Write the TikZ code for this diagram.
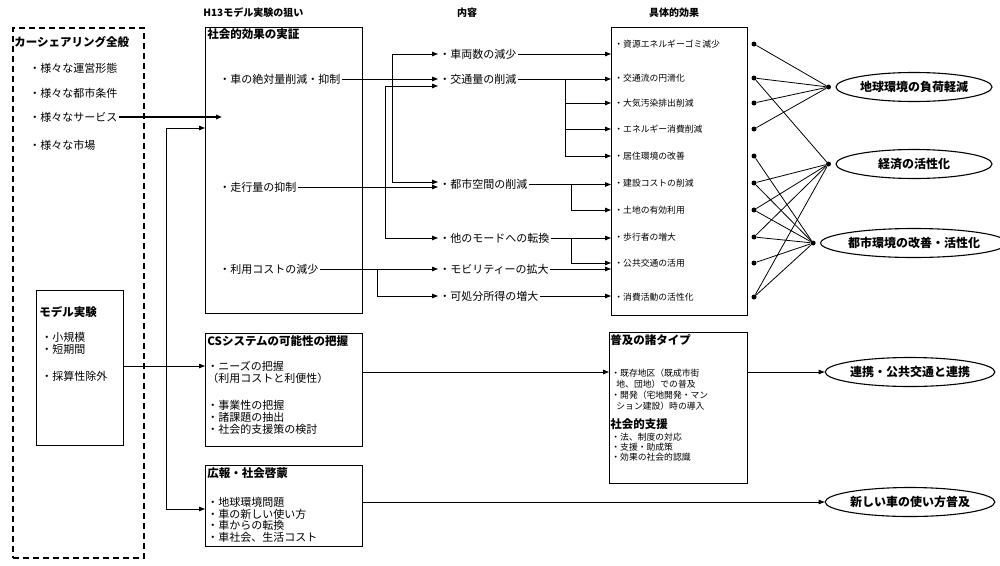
\documentclass[tikz,border=0pt]{standalone}
\usepackage{fontspec}
\setmainfont{Noto Sans CJK JP}
\usetikzlibrary{shapes.geometric, positioning, arrows.meta}

\tikzset{
  arr/.style={-{Triangle[length=6pt,width=4.5pt]}},
  box/.style={draw, line width=1pt, anchor=north west, inner sep=0},
  dbox/.style={draw, dash pattern=on 6pt off 4pt, line width=1.5pt, anchor=north west, inner sep=0},
  hdr/.style={inner sep=0, font=\fontsize{10}{12}\selectfont\bfseries},
  ttl/.style={anchor=west, inner sep=1pt, font=\fontsize{11.5}{13}\selectfont\bfseries},
  txt/.style={anchor=west, inner sep=1pt, font=\fontsize{11}{13}\selectfont},
  small/.style={anchor=west, inner sep=1pt, font=\fontsize{8.8}{10}\selectfont},
  goal/.style={ellipse, draw, line width=1.1pt, minimum width=156pt, minimum height=29pt, inner sep=0, font=\fontsize{12}{14}\selectfont\bfseries},
  dot/.style={circle, fill, inner sep=0, minimum size=5pt}
}

\begin{document}
\begin{tikzpicture}[x=1pt, y=-1pt, line width=0.8pt]
  \useasboundingbox (0,0) rectangle (1000,565);

  % Column headers
  \node[hdr, anchor=west] (hA) at (203,13) {H13モデル実験の狙い};
  \node[hdr] (hB) at (467,13) {内容};
  \node[hdr] (hC) at (674,13) {具体的効果};

  % Car sharing in general
  \node[dbox, minimum width=131pt, minimum height=530pt] (all) at (12,27) {};
  \node[ttl] (allT) at (13,42) {カーシェアリング全般};
  \foreach \n/\y/\t in {1/68/様々な運営形態, 2/93/様々な都市条件, 3/117/様々なサービス, 4/145/様々な市場}
    \node[txt] (s\n) at (28,\y) {・\t};

  % Model experiment
  \node[box, minimum width=87pt, minimum height=155pt] (mbox) at (36,290) {};
  \node[ttl] (mT) at (38,312) {モデル実験};
  \node[txt] (m1) at (40,337) {・小規模};
  \node[txt] (m2) at (40,349) {・短期間};
  \node[txt] (m3) at (40,376) {・採算性除外};

  % Aims of the H13 experiment
  \node[box, minimum width=157pt, minimum height=286pt] (soc) at (205,27) {};
  \node[ttl] (socT) at (206,34) {社会的効果の実証};
  \node[txt] (a1) at (218,79) {・車の絶対量削減・抑制};
  \node[txt] (a2) at (218,187) {・走行量の抑制};
  \node[txt] (a3) at (218,269) {・利用コストの減少};

  \node[box, minimum width=157pt, minimum height=113pt] (cs) at (205,333) {};
  \node[ttl] (csT) at (206,341) {CSシステムの可能性の把握};
  \node[txt] (c1) at (206,366) {・ニーズの把握};
  \node[txt] (c2) at (206,378) {（利用コストと利便性）};
  \node[txt] (c3) at (206,405) {・事業性の把握};
  \node[txt] (c4) at (206,417) {・諸課題の抽出};
  \node[txt] (c5) at (206,429) {・社会的支援策の検討};

  \node[box, minimum width=157pt, minimum height=81pt] (pr) at (205,465) {};
  \node[ttl] (prT) at (206,473) {広報・社会啓蒙};
  \foreach \n/\y/\t in {1/502/地球環境問題, 2/514/車の新しい使い方, 3/525/車からの転換, 4/537/車社会、生活コスト}
    \node[txt] (p\n) at (206,\y) {・\t};

  % Contents
  \foreach \n/\y/\t in {sharyo/54/車両数の減少, kotsu/79/交通量の削減, toshi/184.5/都市空間の削減, mode/238/他のモードへの転換, mobil/269/モビリティーの拡大, kasho/296/可処分所得の増大}
    \node[txt] (\n) at (438,\y) {・\t};

  % Concrete effects
  \node[box, minimum width=136pt, minimum height=288pt] (eff) at (611,27) {};
  \foreach \n/\y/\t in {1/44/資源エネルギーゴミ減少, 2/78/交通流の円滑化, 3/103/大気汚染排出削減, 4/129/エネルギー消費削減, 5/156/居住環境の改善, 6/183/建設コストの削減, 7/210/土地の有効利用, 8/237/歩行者の増大, 9/263/公共交通の活用, 10/297/消費活動の活性化}{
    \node[small] (e\n) at (613,\y) {・\t};
    \node[dot] (d\n) at (754,\y) {};
  }

  % Types of spread
  \node[box, minimum width=138pt, minimum height=151pt] (fk) at (609,332) {};
  \node[ttl] (fkT) at (609,340) {普及の諸タイプ};
  \node[small] (f1) at (610,373) {・既存地区（既成市街};
  \node[small] (f2) at (615,384) {地、団地）での普及};
  \node[small] (f3) at (610,395) {・開発（宅地開発・マン};
  \node[small] (f4) at (615,406) {ション建設）時の導入};
  \node[ttl] (fkS) at (609,424) {社会的支援};
  \node[small] (f5) at (610,437) {・法、制度の対応};
  \node[small] (f6) at (610,447) {・支援・助成策};
  \node[small] (f7) at (610,457) {・効果の社会的認識};

  % Goals
  \node[goal] (G1) at (914,87) {地球環境の負荷軽減};
  \node[goal] (G2) at (914,164) {経済の活性化};
  \node[goal] (G3) at (914,243) {都市環境の改善・活性化};
  \node[goal] (G4) at (910,372) {連携・公共交通と連携};
  \node[goal] (G5) at (910,502) {新しい車の使い方普及};
  \foreach \n in {1,2,3}
    \node[dot] (g\n) at ([xshift=-7pt]G\n.west) {};

  % Arrows into the aims
  \coordinate (svtip) at (222,117);
  \draw[arr, line width=1.8pt] (s3.east) -- (svtip);
  \coordinate (v1) at (166,128);
  \coordinate (v2) at (166,509);
  \draw[{Triangle[length=6pt,width=4.5pt]}-{Triangle[length=6pt,width=4.5pt]}] (v1 -| soc.west) -- (v1) -- (v2) -- (v2 -| pr.west);
  \draw[arr] (mbox.east |- c1) -- (cs.west |- c1);

  % Aims to contents
  \draw[arr] (a1.east) -- (kotsu.west);
  \coordinate (j1) at (392,79);
  \draw[arr] (j1) |- (sharyo.west);
  \draw[arr] (j1) |- ([yshift=2.5pt]toshi.west);
  \draw[arr] (a2.east) -- ([yshift=-2.5pt]toshi.west);
  \coordinate (j2) at (385,187);
  \draw[arr] (j2) |- ([yshift=-7pt]kotsu.west);
  \draw[arr] (j2) |- (mode.west);
  \draw[arr] (a3.east) -- (mobil.west);
  \coordinate (j3) at (377,269);
  \draw[arr] (j3) |- (kasho.west);

  % Contents to effects
  \foreach \n in {sharyo, kotsu, toshi, mode, mobil, kasho}
    \draw[arr] (\n.east) -- (\n.east -| eff.west);
  \coordinate (j4) at (565,79);
  \foreach \n in {3,4,5}
    \draw[arr] (j4) |- (eff.west |- e\n);
  \coordinate (j5) at (571,184.5);
  \draw[arr] (j5) |- (eff.west |- e7);
  \coordinate (j6) at (571,238);
  \draw[arr] (j6) |- (eff.west |- e9);

  % Effects to goals
  \foreach \a/\b in {1/1, 2/1, 3/1, 4/1, 2/2, 6/2, 7/2, 8/2, 10/2, 5/3, 6/3, 7/3, 8/3, 9/3, 10/3}
    \draw (d\a) -- (g\b);

  % Lower flows
  \draw[arr] (cs.east |- G4) -- (fk.west |- G4);
  \draw[arr] (fk.east |- G4) -- (G4.west);
  \draw[arr] (pr.east |- p1) -- (G5.west |- p1);
\end{tikzpicture}
\end{document}
